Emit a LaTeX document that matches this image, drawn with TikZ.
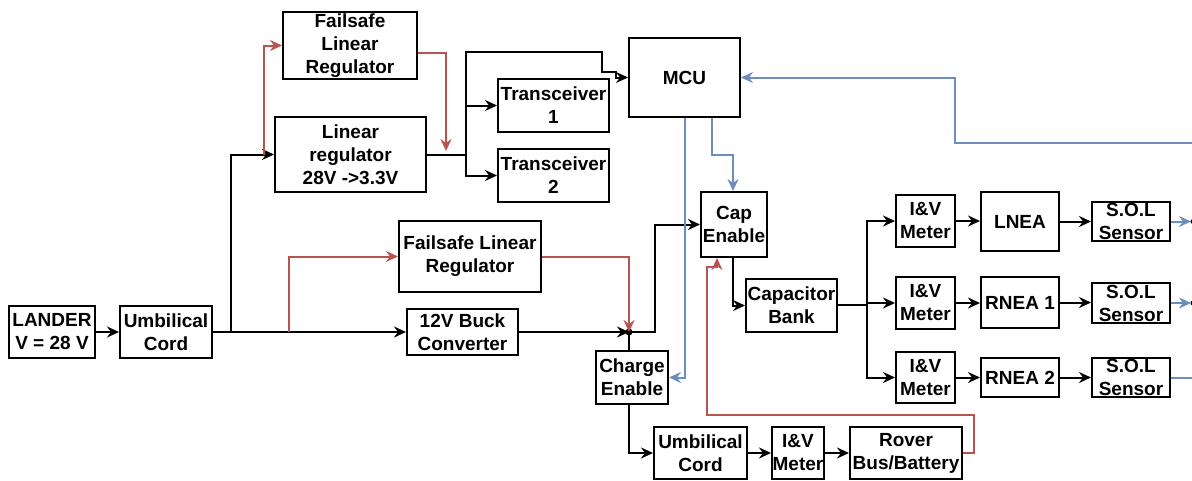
\documentclass[tikz,border=0pt]{standalone}
\usepackage{fontspec}
\setmainfont{Liberation Sans}
\usetikzlibrary{arrows.meta,calc}
\definecolor{cred}{HTML}{B85450}
\definecolor{cblue}{HTML}{6C8EBF}
\begin{document}
\begin{tikzpicture}[x=1pt,y=-1pt,
  txtfont/.style={font=\bfseries\fontsize{19}{23}\selectfont},
  box/.style={draw, line width=2pt, inner sep=0pt, align=center, txtfont},
  lbl/.style={align=center, inner sep=0pt, txtfont},
  wire/.style={line width=2pt, line join=miter},
  arr/.style={wire, -{Stealth[length=12pt,width=11pt,inset=4pt]}},
  redw/.style={arr, draw=cred, -{Stealth[length=12pt,width=11pt,inset=4pt,fill=cred]}},
  bluew/.style={arr, draw=cblue}]
\useasboundingbox (0,0) rectangle (1192,480);

% nodes
\node[box, minimum width=86, minimum height=52] (lander) at (52,332) {LANDER\\V = 28 V};
\node[box, minimum width=92, minimum height=52] (umb1) at (166,332) {Umbilical\\Cord};
\node[box, minimum width=134, minimum height=67] (fs1) at (350,45.5) {Failsafe\\Linear\\Regulator};
\node[box, minimum width=151, minimum height=75] (linreg) at (350.5,154.5) {Linear\\regulator\\28V ->3.3V};
\node[box, minimum width=111, minimum height=79] (mcu) at (684.5,77.5) {MCU};
\node[box, minimum width=111, minimum height=53] (tr1) at (553.5,105.5) {Transceiver\\1};
\node[box, minimum width=111, minimum height=53] (tr2) at (553.5,175.5) {Transceiver\\2};
\node[box, minimum width=142, minimum height=71] (fs2) at (470,256.5) {Failsafe Linear\\Regulator};
\node[box, minimum width=111, minimum height=46] (buck) at (462.5,332) {12V Buck\\Converter};
\node[box, minimum width=66, minimum height=65] (cap) at (734,224.5) {Cap\\Enable};
\node[box, minimum width=72, minimum height=53] (charge) at (632,377.5) {Charge\\Enable};
\node[box, minimum width=91, minimum height=53] (capbank) at (791.5,305.5) {Capacitor\\Bank};
\node[box, minimum width=59, minimum height=52] (iv1) at (925.5,221) {I\&V\\Meter};
\node[box, minimum width=59, minimum height=52] (iv2) at (925.5,303) {I\&V\\Meter};
\node[box, minimum width=59, minimum height=51] (iv3) at (925.5,377.5) {I\&V\\Meter};
\node[box, minimum width=78, minimum height=59] (lnea) at (1020,221.5) {LNEA};
\node[box, minimum width=78, minimum height=51] (rnea1) at (1020,302.5) {RNEA 1};
\node[box, minimum width=78, minimum height=39] (rnea2) at (1020,377.5) {RNEA 2};
\node[box, minimum width=78, minimum height=39, label={[lbl]center:{S.O.L\\Sensor}}] (sol1) at (1131,221.5) {};
\node[box, minimum width=78, minimum height=40, label={[lbl]center:{S.O.L\\Sensor}}] (sol2) at (1131,303) {};
\node[box, minimum width=78, minimum height=39, label={[lbl]center:{S.O.L\\Sensor}}] (sol3) at (1131,377.5) {};
\node[box, minimum width=93, minimum height=52] (umb2) at (700.5,453) {Umbilical\\Cord};
\node[box, minimum width=52, minimum height=52] (iv4) at (798,453) {I\&V\\Meter};
\node[box, minimum width=112, minimum height=52] (rover) at (906,453) {Rover\\Bus/Battery};

% junction coordinates
\coordinate (j1) at (231,332);
\coordinate (jr1) at (289,332);
\coordinate (jr0) at (264,154.5);
\coordinate (sp) at (466,154.5);
\coordinate (jc) at (629,332);
\coordinate (sb) at (867,305);
\coordinate (fs1out) at ($(fs1.east)+(0,7.5)$);
\coordinate (capin) at ($(cap.south)+(-17,0)$);
\coordinate (capout) at ($(cap.south)+(-1,0)$);
\coordinate (mcuout) at ($(mcu.south)+(27.5,0)$);
\coordinate (capnorth) at ($(cap.north)+(-1,0)$);
\coordinate (e1) at (1191,221.5);
\coordinate (e2) at (1191,303);
\coordinate (e3) at (1192,377.5);
\coordinate (e4) at (1192,143);

% black connectors
\draw[arr] (lander) -- (umb1);
\draw[arr] (umb1) -- (buck);
\draw[arr] (j1) |- (linreg.west);
\draw[wire] (linreg.east) -- (sp);
\draw[arr] (sp) |- (tr1.west);
\draw[arr] (sp) |- (tr2.west);
\draw[arr] (sp) -- (466,52) -- (602,52) -- (602,72) -- (616,72) -- (616,77.5) -- (mcu.west);
\draw[arr] (buck.east) -- (jc);
\fill (jc) circle (3.5);
\draw[arr] (jc) -- (655,332) |- (cap.west);
\draw[wire] (jc) -- (jc |- charge.north);
\draw[arr] (charge.south -| jc) |- (umb2.west);
\draw[arr] (umb2) -- (iv4);
\draw[arr] (iv4) -- (rover);
\draw[arr] (capout) |- (capbank.west);
\draw[wire] (capbank.east |- sb) -- (sb);
\draw[arr] (sb) |- (iv1.west);
\draw[arr] (sb) |- (iv2.west);
\draw[arr] (sb) |- (iv3.west);
\draw[arr] (iv1.east) -- (lnea.west |- iv1.east);
\draw[arr] (iv2.east) -- (rnea1.west |- iv2.east);
\draw[arr] (iv3.east) -- (rnea2.west |- iv3.east);
\draw[arr] (lnea.east) -- (sol1.west |- lnea.east);
\draw[arr] (rnea1.east) -- (sol2.west |- rnea1.east);
\draw[arr] (rnea2.east) -- (sol3.west |- rnea2.east);

% red connectors
\draw[redw] (jr0) |- (fs1.west);
\draw[redw] (fs1out) -| (446,151);
\draw[redw] (jr1) |- (fs2.west);
\draw[redw] (fs2.east) -| (jc);
\draw[redw] (rover.east) -- (974,453) -- (974,415) -- (707,415) -- (707,267) -- (717,267) -- (capin);

% blue connectors
\draw[bluew] (e4) -- (955,143) -- (955,77.5) -- (mcu.east);
\draw[bluew] (mcuout) -- ++(0,37) -| (capnorth);
\draw[bluew] (mcu.south) |- (charge.east);
\draw[bluew] (sol1.east) -- (e1);
\draw[bluew] (sol2.east) -- (e2);
\draw[wire, draw=cblue] (sol3.east) -- (e3);
\fill (1193,221.5) circle (2.5);
\fill (1193,303) circle (2.5);
\end{tikzpicture}
\end{document}
